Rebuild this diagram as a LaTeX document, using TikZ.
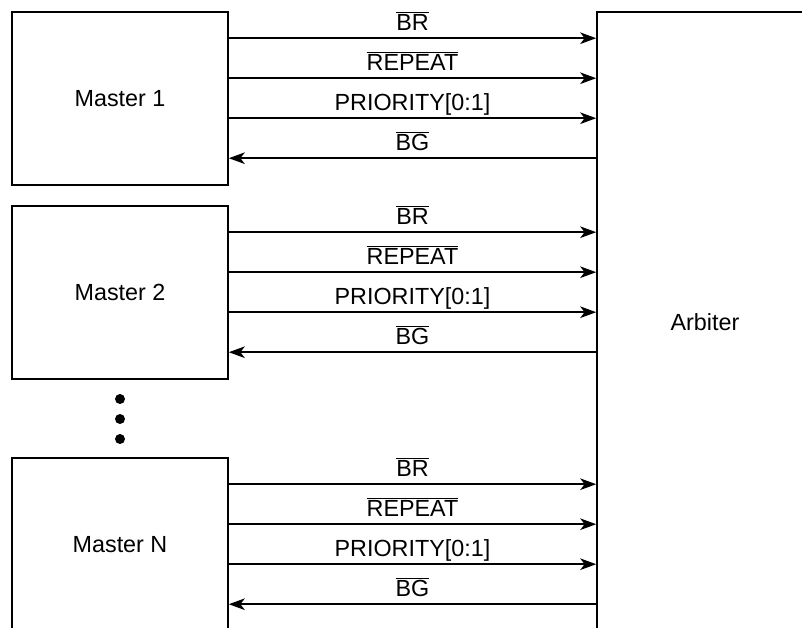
\documentclass[tikz,border=0pt]{standalone}
\usepackage{fontspec}
\setmainfont{Liberation Sans}
\usetikzlibrary{arrows.meta,calc}

\begin{document}
\begin{tikzpicture}[
  x=0.025cm, y=-0.025cm,
  blk/.style={draw, line width=1.1pt, minimum width=5.4cm, minimum height=4.325cm, inner sep=0pt, font=\fontsize{16.6}{20}\selectfont},
  sig/.style={font=\fontsize{16.6}{20}\selectfont, anchor=base, inner sep=0pt, yshift=0.2cm},
  arr/.style={-{Stealth[length=0.4cm, width=0.29cm, inset=0.11cm]}, line width=1.1pt},
  rarr/.style={{Stealth[length=0.4cm, width=0.29cm, inset=0.11cm]}-, line width=1.1pt},
  dot/.style={circle, fill, inner sep=0pt, minimum size=0.25cm}
]
\useasboundingbox (0,0) rectangle (802,627);
\clip (0,0) rectangle (802,627);

\node[blk, minimum height=15.5cm] (arb) at (705,322) {Arbiter};
\node[blk] (m1) at (120,98.5) {Master 1};
\node[blk] (m2) at (120,292.5) {Master 2};
\node[blk] (mN) at (120,544.5) {Master N};

% dots between master 2 and master N
\foreach \y [count=\k] in {399,419,439}
  \node[dot] (d\k) at (120,\y) {};

% signal lines of every master
\foreach \m in {m1,m2,mN} {
  \foreach \dy/\lab/\dir [count=\i] in {27/{$\overline{\mbox{BR}}$}/arr,
                                         67/{$\overline{\mbox{REPEAT}}$}/arr,
                                         107/{PRIORITY[0:1]}/arr,
                                         147/{$\overline{\mbox{BG}}$}/rarr} {
    \coordinate (p\m\i) at ($(\m.north east)+(0,-\dy*0.025cm)$);
    \coordinate (q\m\i) at (p\m\i -| arb.west);
    \draw[\dir] (p\m\i) -- (q\m\i) node[midway, sig] (l\m\i) {\lab};
  }
}

\end{tikzpicture}
\end{document}
